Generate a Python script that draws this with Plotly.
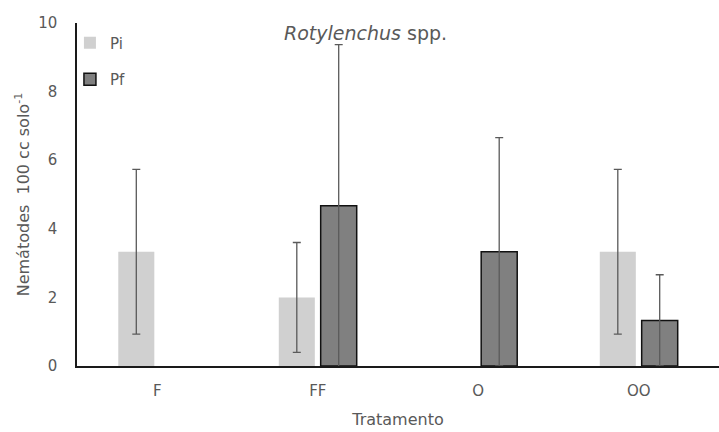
import plotly.graph_objects as go

# Nematode counts per treatment (initial Pi and final Pf populations)
tratamentos = ["F", "FF", "O", "OO"]
pi_vals = [3.33, 2.0, None, 3.33]
pi_err = [2.4, 1.6, None, 2.4]
pf_vals = [None, 4.67, 3.33, 1.33]
pf_err = [None, 4.7, 3.33, 1.33]
y_ticks = [0, 2, 4, 6, 8, 10]

text_color = "#595959"
font_family = "DejaVu Sans, sans-serif"

fig = go.Figure()
fig.add_trace(go.Bar(
    name="Pi", x=tratamentos, y=pi_vals, legendgroup="pi",
    marker=dict(color="#D0D0D0", line=dict(width=0)),
    error_y=dict(type="data", array=pi_err, visible=True,
                 color="#5a5a5a", thickness=1.3, width=4),
))
fig.add_trace(go.Bar(
    name="Pf", x=tratamentos, y=pf_vals, legendgroup="pf",
    marker=dict(color="#808080", line=dict(color="#111111", width=1.5)),
    error_y=dict(type="data", array=pf_err, visible=True,
                 color="#5a5a5a", thickness=1.3, width=4),
))

fig.update_layout(
    width=719, height=432,
    margin=dict(l=77, r=0, t=23, b=66),
    paper_bgcolor="white", plot_bgcolor="white",
    barmode="group", bargap=0.478, bargroupgap=0.14,
    font=dict(family=font_family, color=text_color, size=15),
    showlegend=True,
    legend=dict(
        x=-0.011, y=0.99, xanchor="left", yanchor="top",
        traceorder="grouped", tracegroupgap=14,
        bgcolor="rgba(0,0,0,0)", font=dict(size=15, color=text_color),
    ),
    annotations=[dict(
        text="<i>Rotylenchus</i> spp.", x=0.449, y=1.0, xref="paper", yref="paper",
        xanchor="center", yanchor="top", showarrow=False, yshift=3,
        font=dict(size=19, color=text_color),
    )],
)

fig.update_xaxes(
    showline=True, linecolor="#1a1a1a", linewidth=1.5,
    showgrid=False, ticks="", ticklabelstandoff=10,
    tickfont=dict(size=15, color=text_color),
    title=dict(text="Tratamento", font=dict(size=16, color=text_color), standoff=15),
)
fig.update_yaxes(
    range=[0, 10], tickvals=y_ticks,
    showline=True, linecolor="#1a1a1a", linewidth=1.5,
    showgrid=False, zeroline=False, ticks="", ticklabelstandoff=15,
    tickfont=dict(size=15, color=text_color),
    title=dict(text="Nemátodes  100 cc solo<sup>-1</sup>",
               font=dict(size=16, color=text_color), standoff=5),
)

fig.write_html("out.html")
